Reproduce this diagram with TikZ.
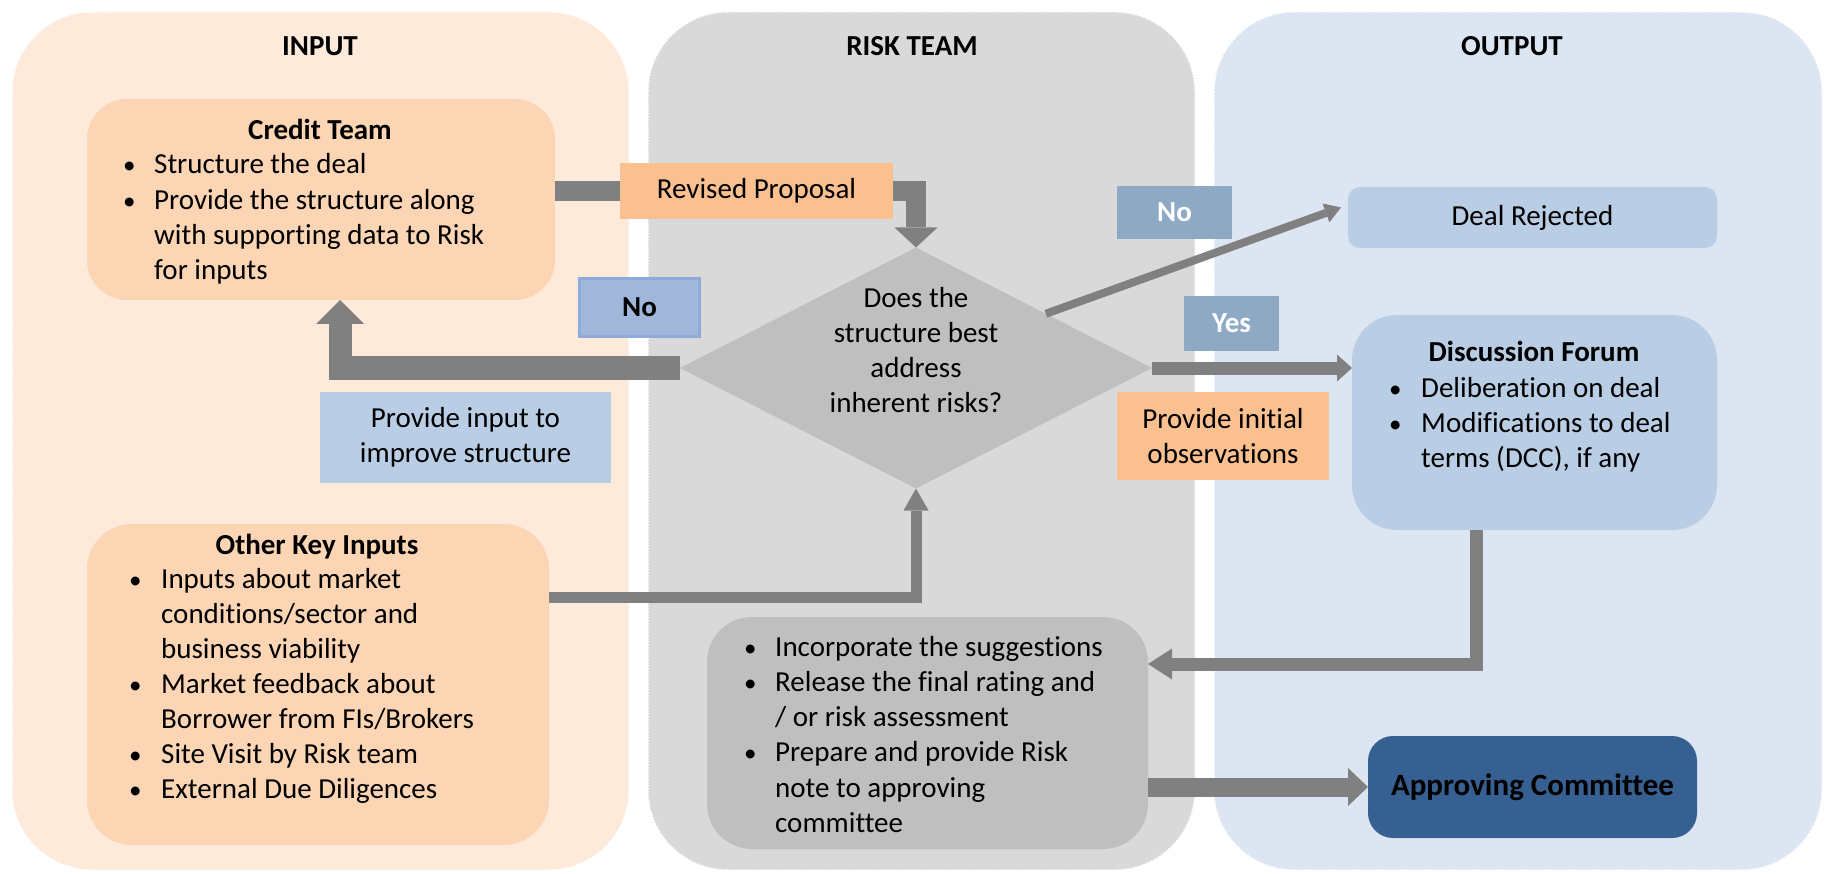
\documentclass[tikz,border=0pt]{standalone}
\usepackage{fontspec}
\setmainfont{Carlito}[Ligatures=NoCommon]
\usetikzlibrary{arrows.meta,shapes.geometric,calc}
\definecolor{inbg}{HTML}{FDEADA}
\definecolor{riskbg}{HTML}{D9D9D9}
\definecolor{outbg}{HTML}{DCE6F2}
\definecolor{peach}{HTML}{FCD5B5}
\definecolor{orange}{HTML}{FAC090}
\definecolor{lblue}{HTML}{B9CDE5}
\definecolor{dgray}{HTML}{BFBFBF}
\definecolor{agray}{HTML}{808080}
\definecolor{steel}{HTML}{8DA9C4}
\definecolor{nofill}{HTML}{A1B7DA}
\definecolor{noedge}{HTML}{8EAADB}
\definecolor{navy}{HTML}{376092}
\newcommand\bodyfont{\fontsize{29}{35}\selectfont}
\begin{document}
\begin{tikzpicture}[x=1pt,y=-1pt,
  panel/.style={rounded corners=80pt, draw=white, line width=1.5pt, dash pattern=on 1.5pt off 1.5pt},
  box/.style={inner sep=0pt, outer sep=0pt, font=\bodyfont, align=center},
  txt/.style={inner sep=0pt, anchor=base west, font=\bodyfont},
  bul/.style={inner sep=0pt, anchor=base west, font=\fontsize{25}{35}\selectfont},
  ttl/.style={inner sep=0pt, anchor=base, font=\bodyfont\bfseries},
  conn/.style={draw=agray, line width=#1}]
\useasboundingbox (0,0) rectangle (1825,874);
% panels
\path[panel, fill=inbg] (12,12) rectangle (629,870);
\path[panel, fill=riskbg] (648,12) rectangle (1195,870);
\path[panel, fill=outbg] (1214,12) rectangle (1822,870);
\node[ttl] (tin) at (320,56) {INPUT};
\node[ttl] (trisk) at (912,56) {RISK TEAM};
\node[ttl] (tout) at (1512,56) {OUTPUT};
% main boxes
\node[box, fill=peach, rounded corners=40pt, minimum width=468pt, minimum height=201pt] (credit) at (321,199.5) {};
\node[box, fill=peach, rounded corners=45pt, minimum width=462pt, minimum height=321pt] (other) at (318,684.5) {};
\node[box, fill=lblue, minimum width=291pt, minimum height=91pt] (prin) at (465.5,437.5) {Provide input to\\improve structure};
\node[diamond, fill=dgray, inner sep=0pt, outer sep=0pt, minimum width=472pt, minimum height=241pt] (dia) at (916,368) {};
\node[box] (dq) at (916,350) {Does the\\structure best\\address\\inherent risks?};
\node[box, fill=orange, minimum width=212pt, minimum height=88pt] (obs) at (1223,436) {Provide initial\\observations};
\node[box, fill=lblue, rounded corners=12pt, minimum width=369pt, minimum height=61pt] (rej) at (1532.5,217.5) {Deal Rejected};
\node[box, fill=lblue, rounded corners=45pt, minimum width=365pt, minimum height=215pt] (disc) at (1534.5,422.5) {};
\node[box, fill=dgray, rounded corners=45pt, minimum width=441pt, minimum height=232pt] (riskb) at (927.5,733) {};
\node[box, fill=navy, rounded corners=25pt, minimum width=329pt, minimum height=102pt, font=\fontsize{31}{37}\selectfont\bfseries] (appr) at (1532.5,787) {Approving Committee};
% connectors
\coordinate (k1) at (0,191);
\draw[conn=20pt, -{Triangle[width=43pt,length=20pt,line width=0pt]}] (credit.east |- k1) -| (dia.north);
\coordinate (k2) at (340,0);
\draw[conn=23pt, -{Triangle[width=48pt,length=24pt,line width=0pt]}] (dia.west) -| (k2 |- credit.south);
\coordinate (k3) at (0,597);
\draw[conn=11pt, -{Triangle[width=25pt,length=22pt,line width=0pt]}] (other.east |- k3) -| (dia.south);
\draw[conn=8pt, -{Triangle[width=20pt,length=16pt,line width=0pt]}] ($(dia.north east)!0.1!(dia.east)$) -- ($(rej.west)+(-7,-10)$);
\draw[conn=13pt, -{Triangle[width=27pt,length=15pt,line width=0pt]}] (dia.east) -- (dia.east -| disc.west);
\coordinate (k6) at (1476,664);
\draw[conn=13pt, -{Triangle[width=31pt,length=24pt,line width=0pt]}] (k6 |- disc.south) |- (riskb.east |- k6);
\draw[conn=19pt, -{Triangle[width=38pt,length=20pt,line width=0pt]}] (riskb.east |- appr.west) -- (appr.west);
% labels over connectors
\node[box, fill=orange, minimum width=273pt, minimum height=56pt] (rev) at (756.5,191) {Revised Proposal};
\node[box, fill=nofill, draw=noedge, line width=3pt, minimum width=120pt, minimum height=58pt, font=\bodyfont\bfseries] (nol) at (639.5,307.5) {No};
\node[box, fill=steel, text=white, minimum width=115pt, minimum height=53pt, font=\bodyfont\bfseries] (nor) at (1174.5,212.5) {No};
\node[box, fill=steel, text=white, minimum width=95pt, minimum height=55pt, font=\bodyfont\bfseries] (yes) at (1231.5,323.5) {Yes};
% credit team text
\node[ttl] (ct0) at (320,140) {Credit Team};
\node[bul] (cb1) at (123,174) {•};
\node[txt] (ct1) at (154,174) {Structure the deal};
\node[bul] (cb2) at (123,210) {•};
\node[txt] (ct2) at (154,210) {Provide the structure along};
\node[txt] (ct3) at (154,245) {with supporting data to Risk};
\node[txt] (ct4) at (154,280) {for inputs};
% other key inputs text
\node[ttl] (ot0) at (317,554) {Other Key Inputs};
\node[bul] (ob1) at (129,588) {•};
\node[txt] (ot1) at (161,588) {Inputs about market};
\node[txt] (ot2) at (161,623) {conditions/sector and};
\node[txt] (ot3) at (161,658) {business viability};
\node[bul] (ob4) at (129,693) {•};
\node[txt] (ot4) at (161,693) {Market feedback about};
\node[txt] (ot5) at (161,728) {Borrower from FIs/Brokers};
\node[bul] (ob6) at (129,763) {•};
\node[txt] (ot6) at (161,763) {Site Visit by Risk team};
\node[bul] (ob7) at (129,798) {•};
\node[txt] (ot7) at (161,798) {External Due Diligences};
% discussion forum text
\node[ttl] (dt0) at (1534,362) {Discussion Forum};
\node[bul] (db1) at (1389,397) {•};
\node[txt] (dt1) at (1421,397) {Deliberation on deal};
\node[bul] (db2) at (1389,432) {•};
\node[txt] (dt2) at (1421,432) {Modifications to deal};
\node[txt] (dt3) at (1421,467) {terms (DCC), if any};
% risk box text
\node[bul] (rb1) at (744,656) {•};
\node[txt] (rt1) at (775,656) {Incorporate the suggestions};
\node[bul] (rb2) at (744,691) {•};
\node[txt] (rt2) at (775,691) {Release the final rating and};
\node[txt] (rt3) at (775,726) {/ or risk assessment};
\node[bul] (rb4) at (744,761) {•};
\node[txt] (rt4) at (775,761) {Prepare and provide Risk};
\node[txt] (rt5) at (775,797) {note to approving};
\node[txt] (rt6) at (775,832) {committee};
\end{tikzpicture}
\end{document}
